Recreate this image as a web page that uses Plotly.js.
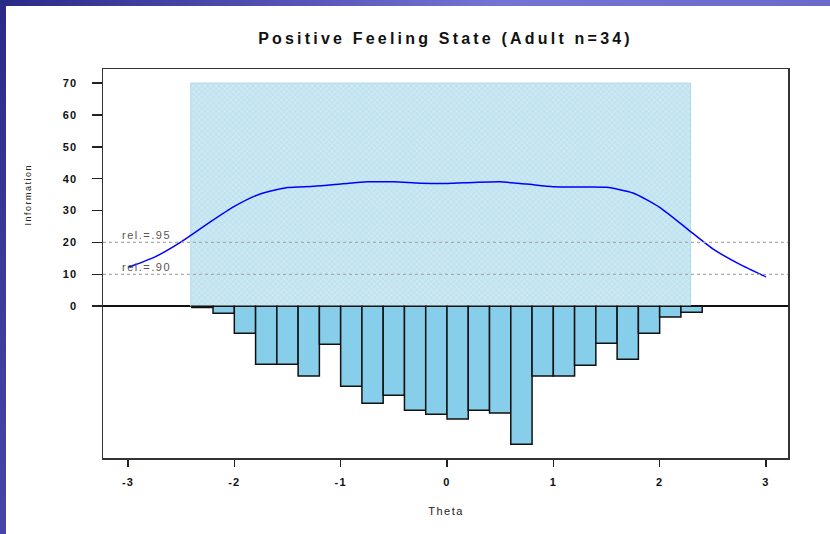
<!DOCTYPE html>
<html>
<head>
<meta charset="utf-8">
<script src="https://cdn.plot.ly/plotly-3.0.1.min.js"></script>
<style>
  html, body { margin: 0; padding: 0; background: #ffffff; }
  #wrap { position: relative; width: 830px; height: 534px; background: #ffffff; overflow: hidden; }
  #topband { position: absolute; left: 0; top: 0; width: 830px; height: 6px;
    background: linear-gradient(to right, #2a2a86 0%, #5454b8 35%, #7474d6 60%, #6a6acc 100%); }
  #leftband { position: absolute; left: 0; top: 0; width: 6px; height: 534px;
    background: linear-gradient(to bottom, #2a2a86 0%, #3a3a98 50%, #4646a8 100%); }
  #chart { position: absolute; left: 0; top: 0; width: 830px; height: 534px; }
  #chart .xtick text, #chart .ytick text { letter-spacing: 1.2px; }
  #chart .annotation-text { letter-spacing: 1.5px; }
  #chart .gtitle { letter-spacing: 3.2px; }
</style>
</head>
<body>
<div id="wrap">
  <div id="chart"></div>
  <div id="topband"></div>
  <div id="leftband"></div>
</div>
<script>
// Test information curve (Theta -> Information)
const thetaCurve = [-3, -2.75, -2.5, -2.25, -2, -1.75, -1.5, -1.25, -1, -0.75, -0.5, -0.25, 0,
                    0.25, 0.5, 0.75, 1, 1.25, 1.5, 1.75, 2, 2.25, 2.5, 2.75, 3];
const information = [12.2, 15.4, 20.2, 25.9, 31.3, 35.3, 37.2, 37.6, 38.3, 39.0, 39.0, 38.6, 38.5,
                     38.8, 39.0, 38.3, 37.5, 37.4, 37.3, 35.5, 31.0, 24.5, 18.0, 13.2, 9.2];

// Person distribution histogram (drawn downward from 0)
const binCenters = [-2.3, -2.1, -1.9, -1.7, -1.5, -1.3, -1.1, -0.9, -0.7, -0.5, -0.3, -0.1,
                    0.1, 0.3, 0.5, 0.7, 0.9, 1.1, 1.3, 1.5, 1.7, 1.9, 2.1, 2.3];
const personDist = [-0.4, -2.2, -8.5, -18.2, -18.2, -21.9, -11.9, -25.1, -30.4, -27.9, -32.6, -33.9,
                    -35.4, -32.6, -33.5, -43.3, -21.9, -21.9, -18.5, -11.6, -16.6, -8.5, -3.4, -1.9];
const binWidth = 0.2;

// Item location range (shaded region)
const itemRange = [-2.41, 2.29];
const itemRangeTop = 70;

// Reliability reference lines
const relLevels = [20, 10];
const relLabels = ['rel.=.95', 'rel.=.90'];

const xTicks = [-3, -2, -1, 0, 1, 2, 3];
const yTicks = [0, 10, 20, 30, 40, 50, 60, 70];

const fontFam = '"Liberation Sans", Arial, sans-serif';

const traces = [
  {
    type: 'bar',
    x: [(itemRange[0] + itemRange[1]) / 2],
    y: [itemRangeTop],
    width: [itemRange[1] - itemRange[0]],
    base: 0,
    marker: {
      color: '#c6e6f1',
      line: { color: '#b3dcea', width: 1 },
      pattern: { shape: 'x', fgcolor: '#eef8fb', bgcolor: '#c0e3ef', size: 4, solidity: 0.3, fillmode: 'overlay' }
    },
    hoverinfo: 'skip',
    showlegend: false
  },
  {
    type: 'bar',
    x: binCenters,
    y: personDist,
    width: binWidth,
    marker: { color: '#87ceeb', line: { color: '#111111', width: 1.5 } },
    showlegend: false
  },
  {
    type: 'scatter',
    mode: 'lines',
    x: thetaCurve,
    y: information,
    line: { color: '#0000ff', width: 1.5, shape: 'spline', smoothing: 0.6 },
    showlegend: false
  }
];

const shapes = relLevels.map(v => ({
  type: 'line', xref: 'paper', x0: 0, x1: 1, yref: 'y', y0: v, y1: v,
  line: { color: '#aaaaaa', width: 1.2, dash: '3px,3px' }, layer: 'above'
}));

const annotations = relLevels.map((v, i) => ({
  x: -3.02, y: v, xref: 'x', yref: 'y', text: relLabels[i], showarrow: false,
  xanchor: 'left', yanchor: 'bottom', yshift: -1,
  font: { family: fontFam, size: 11, color: '#555555' }
}));
annotations.push({
  xref: 'paper', yref: 'y', x: -0.11, y: 35, text: 'Information', textangle: -90,
  showarrow: false, xanchor: 'center', yanchor: 'middle',
  font: { family: fontFam, size: 9, color: '#222222' }
});
annotations.push({
  xref: 'x', yref: 'paper', x: 0, y: -0.136, text: 'Theta',
  showarrow: false, xanchor: 'center', yanchor: 'middle',
  font: { family: fontFam, size: 11, color: '#222222' }
});

const layout = {
  width: 830, height: 534,
  margin: { l: 103, r: 42, t: 69, b: 76 },
  paper_bgcolor: 'rgba(0,0,0,0)',
  plot_bgcolor: '#ffffff',
  barmode: 'overlay',
  bargap: 0,
  title: {
    text: 'Positive Feeling State (Adult n=34)',
    x: 0.5, xref: 'paper', xanchor: 'center',
    y: 1 - 38 / 534, yref: 'container', yanchor: 'middle',
    font: { family: fontFam, size: 16, color: '#111111', weight: 'bold' }
  },
  xaxis: {
    range: [-3.235, 3.207],
    tickmode: 'array', tickvals: xTicks, ticktext: xTicks.map(String),
    ticks: 'outside', ticklen: 7, tickwidth: 1.5, tickcolor: '#222222',
    showline: true, mirror: true, linecolor: '#333333', linewidth: 1.5,
    showgrid: false, zeroline: false,
    tickfont: { family: fontFam, size: 11, color: '#111111', weight: 'bold' },
    ticklabelstandoff: 6
  },
  yaxis: {
    range: [-47.6, 74.4],
    tickmode: 'array', tickvals: yTicks, ticktext: yTicks.map(String),
    ticks: 'outside', ticklen: 10, tickwidth: 1.5, tickcolor: '#222222',
    showline: true, mirror: true, linecolor: '#333333', linewidth: 1.5,
    showgrid: false, zeroline: true, zerolinecolor: '#111111', zerolinewidth: 1.5,
    tickfont: { family: fontFam, size: 11, color: '#111111', weight: 'bold' },
    ticklabelstandoff: 12
  },
  shapes: shapes,
  annotations: annotations
};

Plotly.newPlot('chart', traces, layout, { displayModeBar: false, staticPlot: true });
</script>
</body>
</html>
